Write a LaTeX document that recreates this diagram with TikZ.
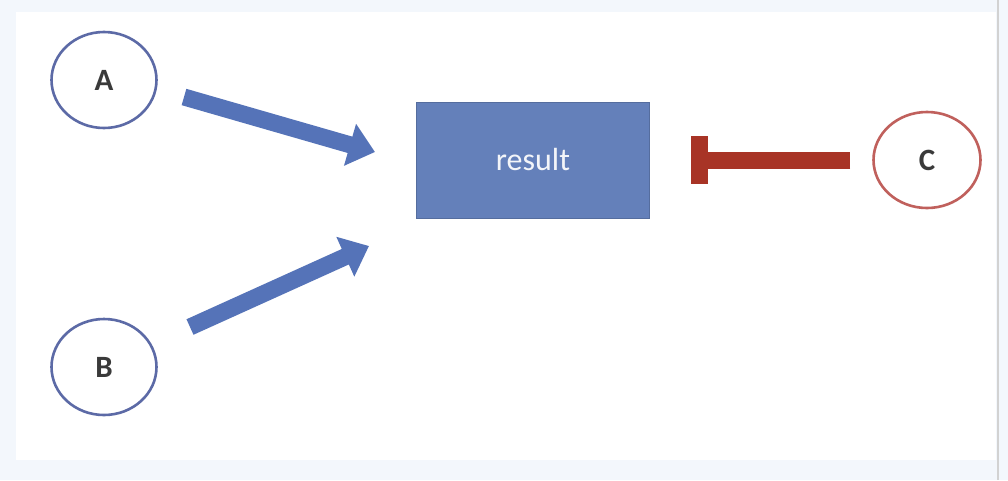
\documentclass[tikz,border=0pt]{standalone}
\usepackage{fontspec}
\setmainfont{Carlito}
\usetikzlibrary{arrows.meta,shapes.geometric}
\definecolor{framebg}{HTML}{F3F7FC}
\definecolor{ringblue}{HTML}{5C6AA6}
\definecolor{ringred}{HTML}{C0605C}
\definecolor{boxblue}{HTML}{6480BA}
\definecolor{arrowblue}{HTML}{5573B8}
\definecolor{barred}{HTML}{A83426}
\definecolor{lettergrey}{HTML}{3A3A3A}
\tikzset{
  ring/.style={ellipse, draw=ringblue, line width=2.6pt, minimum width=105pt, minimum height=96pt, inner sep=0pt,
    font=\fontsize{31}{36}\selectfont\bfseries, text=lettergrey},
  ringc/.style={ring, draw=ringred, minimum width=107pt},
  resbox/.style={rectangle, fill=boxblue, draw=boxblue!85!black, line width=0.8pt, minimum width=233pt, minimum height=116pt,
    font=\fontsize{32}{36}\selectfont, text=white!92!boxblue},
  fatarrow/.style={draw=arrowblue, line width=17pt, line cap=butt, -{Triangle[width=42pt,length=26pt]}},
  inhibit/.style={draw=barred, line width=17pt, line cap=butt, -{Rectangle[width=48pt,length=17pt]}}
}
\begin{document}
\begin{tikzpicture}[x=1pt,y=-1pt]
  \useasboundingbox (0,0) rectangle (1008,480);
  \fill[framebg] (0,0) rectangle (1008,480);
  \fill[white] (16,12) rectangle (996,460);
  \draw[gray!35, line width=1.5pt] (998,0) -- (998,480);
  \node[ring] (A) at (104,80) {A};
  \node[ring] (B) at (104,367) {B};
  \node[ringc] (C) at (927,160) {C};
  \node[resbox] (R) at (533,160) {result};
  \coordinate (a1) at (184,97);
  \coordinate (a2) at (375,152);
  \coordinate (b1) at (190,327);
  \coordinate (b2) at (369,246);
  \coordinate (c1) at (850,160);
  \coordinate (c2) at (691,160);
  \draw[fatarrow] (a1) -- (a2);
  \draw[fatarrow] (b1) -- (b2);
  \draw[inhibit] (c1) -- (c2);
\end{tikzpicture}
\end{document}
